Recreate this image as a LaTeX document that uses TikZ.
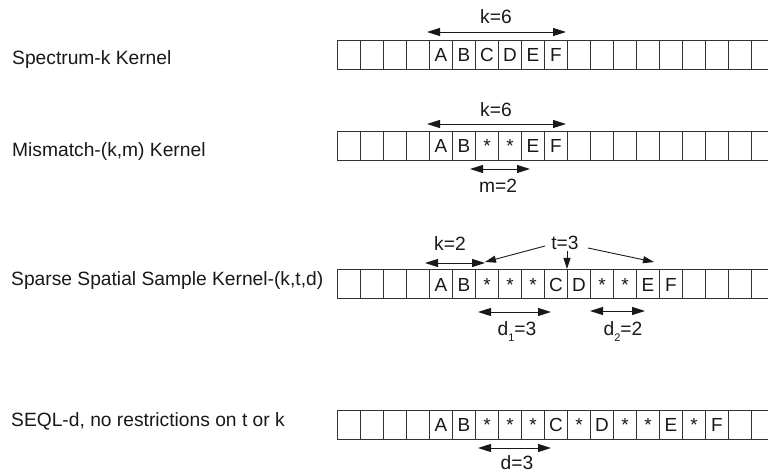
\documentclass[tikz,border=0pt]{standalone}
\usepackage{fontspec}
\setmainfont{Liberation Sans}
\usetikzlibrary{arrows.meta}
\begin{document}
\begin{tikzpicture}[x=1bp,y=-1bp,
  cellbox/.style={draw=black!80, line width=0.9bp, minimum width=23bp, minimum height=29bp,
    inner sep=0pt, anchor=north west, text height=14bp, text depth=0bp, text=black!90,
    font=\fontsize{19}{20}\selectfont},
  lbl/.style={font=\fontsize{19.3}{21}\selectfont, inner sep=0pt, text=black!90},
  dim/.style={{Triangle[length=13bp,width=8bp]}-{Triangle[length=13bp,width=8bp]}, line width=0.9bp, black!90},
  ptr/.style={-{Triangle[length=11bp,width=7bp]}, line width=0.9bp, black!90}]
\useasboundingbox (0,0) rectangle (768,472);
\clip (0,0) rectangle (768,472);
\fill[white] (0,0) rectangle (768,472);

% row labels
\node[lbl, anchor=base west] (L1) at (12,64.3) {Spectrum-k Kernel};
\node[lbl, anchor=base west] (L2) at (12,156.7) {Mismatch-(k,m) Kernel};
\node[lbl, anchor=base west] (L3) at (11,286) {Sparse Spatial Sample Kernel-(k,t,d)};
\node[lbl, anchor=base west] (L4) at (11,426.7) {SEQL-d, no restrictions on t or k};

% row 1
\foreach [count=\i from 0] \c in {{},{},{},{},A,B,C,D,E,F,{},{},{},{},{},{},{},{},{}}
  \node[cellbox] (ra\i) at ({337+23*\i},40) {\c};
% row 2
\foreach [count=\i from 0] \c in {{},{},{},{},A,B,*,*,E,F,{},{},{},{},{},{},{},{},{}}
  \node[cellbox] (rb\i) at ({337+23*\i},131) {\c};
% row 3
\foreach [count=\i from 0] \c in {{},{},{},{},A,B,*,*,*,C,D,*,*,E,F,{},{},{},{}}
  \node[cellbox] (rc\i) at ({337+23*\i},269.5) {\c};
% row 4
\foreach [count=\i from 0] \c in {{},{},{},{},A,B,*,*,*,C,*,D,*,*,E,*,F,{},{}}
  \node[cellbox] (rd\i) at ({337+23*\i},409.5) {\c};

% row 1 annotation
\node[lbl, anchor=base] (k1) at (496,24) {k=6};
\coordinate (k1a) at (427,32);
\coordinate (k1b) at (566,32);
\draw[dim] (k1a) -- (k1b);

% row 2 annotations
\node[lbl, anchor=base] (k2) at (496,116.7) {k=6};
\coordinate (k2a) at (427,124);
\coordinate (k2b) at (566,124);
\draw[dim] (k2a) -- (k2b);
\coordinate (m2a) at (470,169);
\coordinate (m2b) at (530,169);
\draw[dim] (m2a) -- (m2b);
\node[lbl, anchor=base] (m2) at (498,193) {m=2};

% row 3 annotations
\node[lbl, anchor=base] (k3) at (450,250.7) {k=2};
\coordinate (k3a) at (425,263);
\coordinate (k3b) at (485,263);
\draw[dim] (k3a) -- (k3b);
\node[lbl, anchor=base] (t3) at (565,250) {t=3};
\coordinate (t3s1) at (545,246);
\coordinate (t3e1) at (485,262);
\coordinate (t3s2) at (567,251);
\coordinate (t3e2) at (567,269);
\coordinate (t3s3) at (588,248);
\coordinate (t3e3) at (654,262);
\draw[ptr] (t3s1) -- (t3e1);
\draw[ptr] (t3s2) -- (t3e2);
\draw[ptr] (t3s3) -- (t3e3);
\coordinate (d1a) at (478,312);
\coordinate (d1b) at (551,312);
\draw[dim] (d1a) -- (d1b);
\coordinate (d2a) at (590,311);
\coordinate (d2b) at (645,311);
\draw[dim] (d2a) -- (d2b);
\node[lbl, anchor=base] (d1) at (517,336) {d\raisebox{-6bp}{\fontsize{11}{11}\selectfont 1}=3};
\node[lbl, anchor=base] (d2) at (623,336) {d\raisebox{-6bp}{\fontsize{11}{11}\selectfont 2}=2};

% row 4 annotation
\coordinate (d4a) at (478,448);
\coordinate (d4b) at (551,448);
\draw[dim] (d4a) -- (d4b);
\node[lbl, anchor=base] (d4) at (517,469.5) {d=3};
\end{tikzpicture}
\end{document}
